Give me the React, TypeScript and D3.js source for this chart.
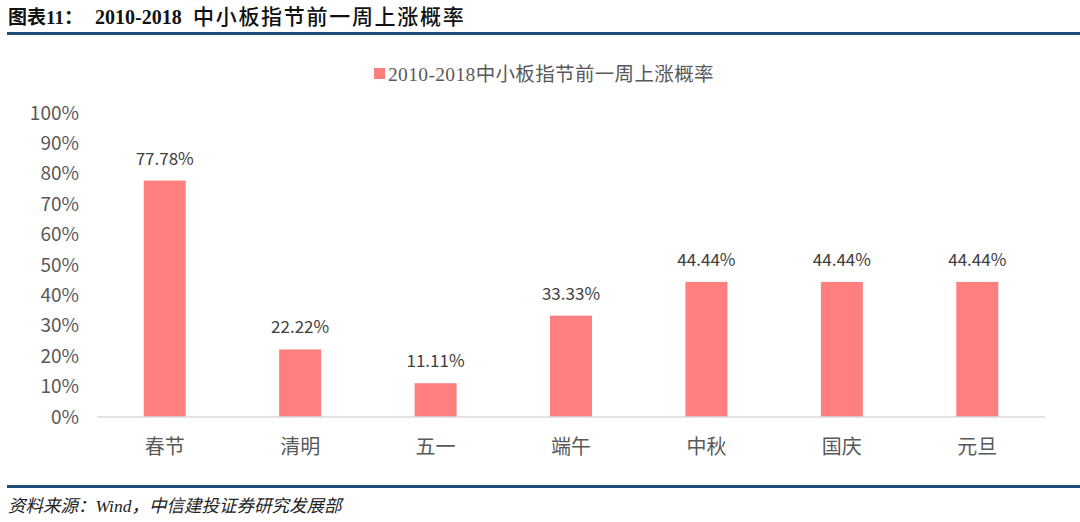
import React, { useRef, useEffect } from 'react';
import * as d3 from 'd3';

const categories = ['春节', '清明', '五一', '端午', '中秋', '国庆', '元旦'];
const values = [77.78, 22.22, 11.11, 33.33, 44.44, 44.44, 44.44];
const yTicks = [0, 10, 20, 30, 40, 50, 60, 70, 80, 90, 100];
const seriesName = '2010-2018中小板指节前一周上涨概率';

const App = () => {
  const ref = useRef<SVGSVGElement>(null);

  useEffect(() => {
    const svg = d3.select(ref.current);
    svg.selectAll('*').remove();

    const W = 1080;
    const H = 522;
    svg.attr('width', W).attr('height', H);

    const sans = "'Microsoft YaHei', 'Noto Sans CJK SC', sans-serif";
    const serif = "'Liberation Serif', 'Noto Sans CJK SC', serif";

    // header
    const title = svg.append('text')
      .attr('y', 24)
      .attr('fill', '#111');
    title.append('tspan')
      .attr('x', 8)
      .attr('font-family', serif)
      .attr('font-weight', 'bold')
      .attr('font-size', 19)
      .text('图表11：');
    title.append('tspan')
      .attr('x', 95)
      .attr('font-family', serif)
      .attr('font-weight', 'bold')
      .attr('font-size', 20)
      .text('2010-2018');
    title.append('tspan')
      .attr('x', 193)
      .attr('font-family', sans)
      .attr('font-weight', 500)
      .attr('font-size', 21)
      .attr('letter-spacing', 1.7)
      .text('中小板指节前一周上涨概率');
    svg.append('rect')
      .attr('x', 7).attr('y', 32).attr('width', W - 7).attr('height', 3)
      .attr('fill', '#1f4e79');

    // footer
    svg.append('rect')
      .attr('x', 7).attr('y', 485).attr('width', W - 7).attr('height', 3)
      .attr('fill', '#1f4e79');
    svg.append('text')
      .attr('x', 8).attr('y', 512)
      .attr('font-family', serif)
      .attr('font-style', 'italic')
      .attr('font-size', 17.5)
      .attr('fill', '#222')
      .text('资料来源：Wind，中信建投证券研究发展部');

    // legend
    svg.append('rect')
      .attr('x', 374).attr('y', 68).attr('width', 11).attr('height', 11)
      .attr('fill', '#ff7f7f');
    svg.append('text')
      .attr('x', 388).attr('y', 81)
      .attr('font-family', serif)
      .attr('font-size', 19.5)
      .attr('letter-spacing', 0.35)
      .attr('fill', '#595959')
      .text(seriesName);

    const x = d3.scaleBand()
      .domain(categories)
      .range([97, 1045])
      .paddingInner(0.69)
      .paddingOuter(0.345);

    const y = d3.scaleLinear().domain([0, 100]).range([417, 113]);

    const g = svg.append('g');

    g.selectAll('rect.bar')
      .data(values)
      .enter()
      .append('rect')
      .attr('class', 'bar')
      .attr('x', (d, i) => x(categories[i]) as number)
      .attr('y', (d) => y(d))
      .attr('width', x.bandwidth())
      .attr('height', (d) => y(0) - y(d))
      .attr('fill', '#ff7f7f');

    g.selectAll('text.val')
      .data(values)
      .enter()
      .append('text')
      .attr('class', 'val')
      .attr('x', (d, i) => (x(categories[i]) as number) + x.bandwidth() / 2)
      .attr('y', (d) => y(d) - 16)
      .attr('text-anchor', 'middle')
      .attr('font-family', sans)
      .attr('font-size', 17)
      .attr('fill', '#404040')
      .text((d) => d.toFixed(2) + '%');

    // baseline
    g.append('line')
      .attr('x1', 97).attr('x2', 1045)
      .attr('y1', y(0)).attr('y2', y(0))
      .attr('stroke', '#d9d9d9')
      .attr('stroke-width', 1.5);

    // y axis labels
    const yAxis = d3.axisLeft(y).tickValues(yTicks).tickSize(0).tickPadding(0)
      .tickFormat((d) => d + '%');
    const ya = svg.append('g').attr('transform', 'translate(79,0)').call(yAxis);
    ya.select('.domain').remove();
    ya.selectAll('text')
      .attr('font-family', sans)
      .attr('font-size', 19)
      .attr('fill', '#595959');

    // x axis labels
    const xAxis = d3.axisBottom(x).tickSize(0).tickPadding(23);
    const xa = svg.append('g').attr('transform', `translate(0,${y(0)})`).call(xAxis);
    xa.select('.domain').remove();
    xa.selectAll('text')
      .attr('font-family', sans)
      .attr('font-size', 20)
      .attr('fill', '#595959');
  }, []);

  return (
    <div style={{ position: 'absolute', left: 0, top: 0 }}>
      <svg ref={ref}></svg>
    </div>
  );
};

export default App;
